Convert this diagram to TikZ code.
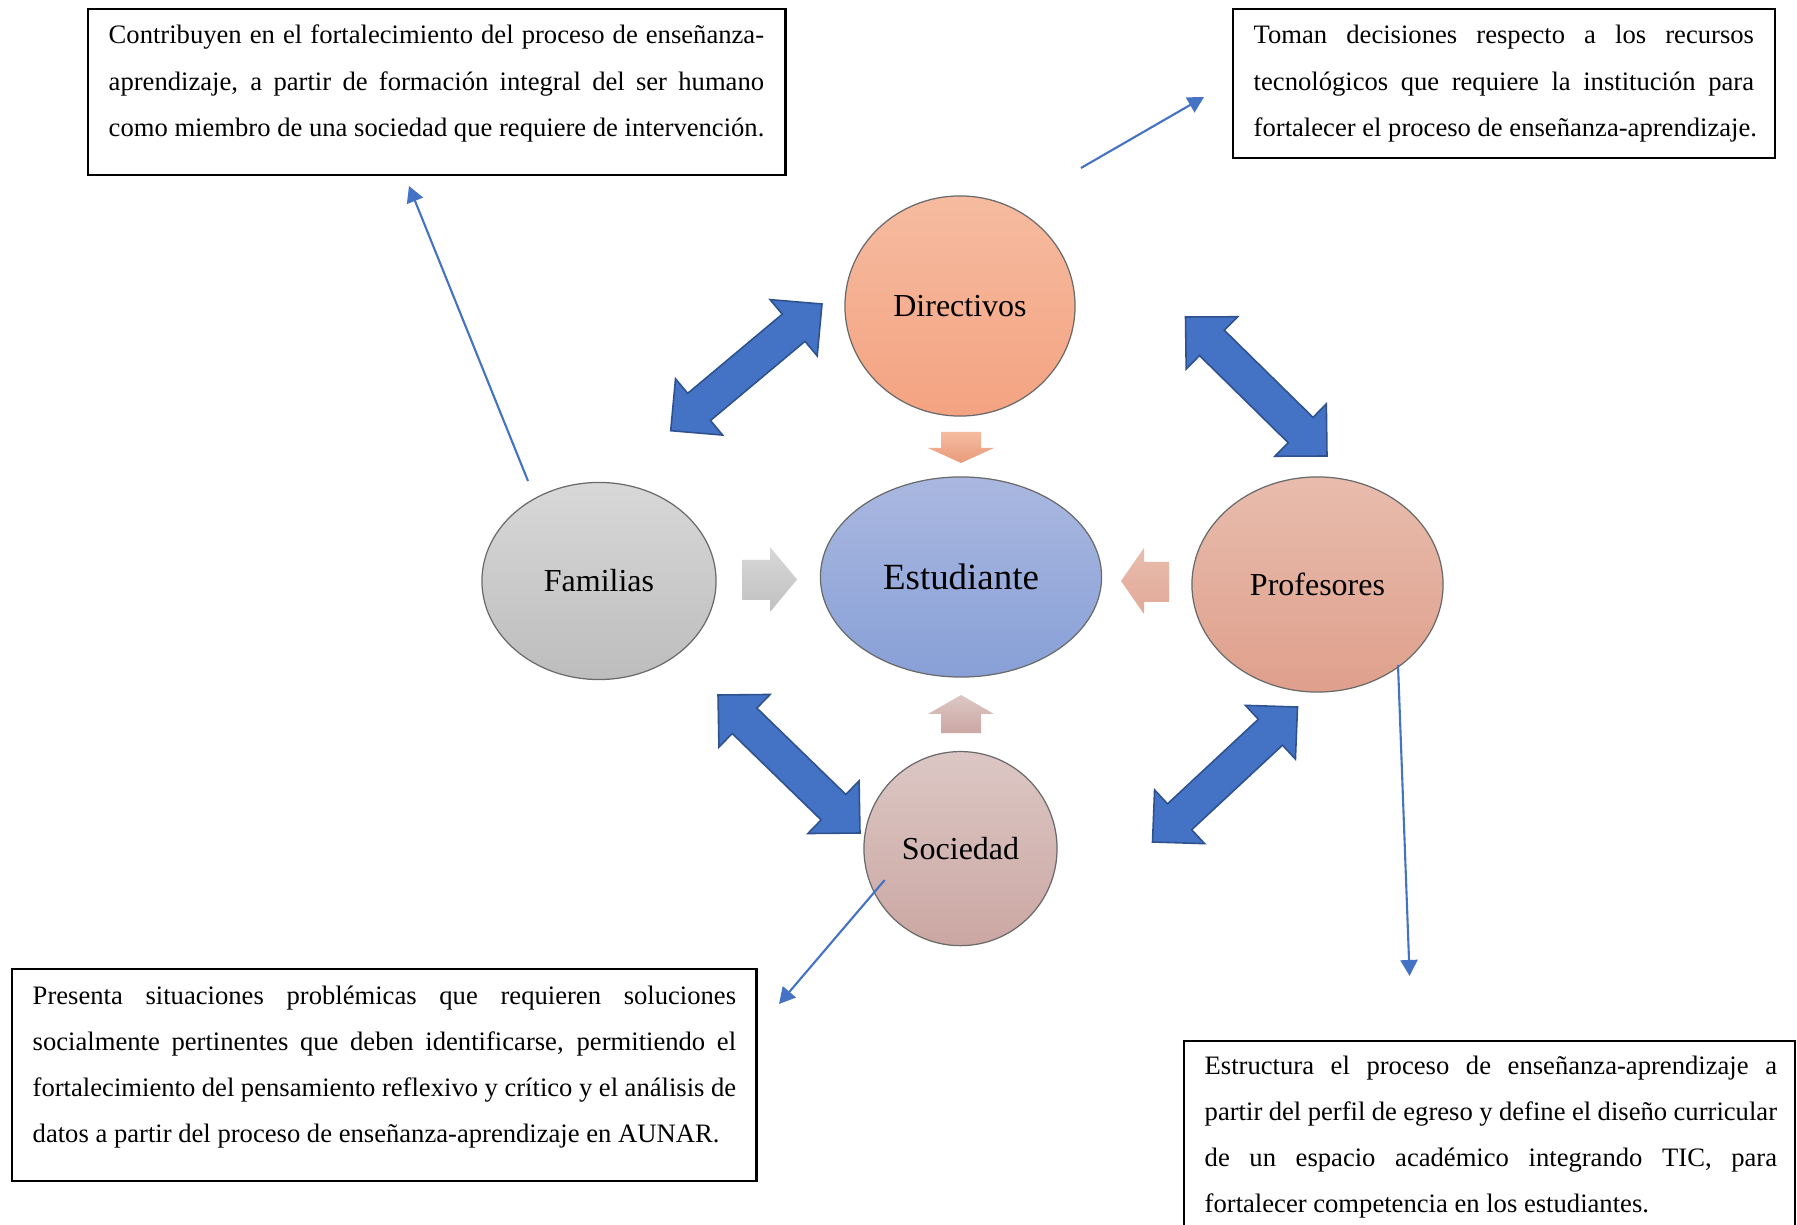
\documentclass[tikz,border=0pt]{standalone}
\usepackage{fontspec}
\setmainfont{Liberation Serif}
\usetikzlibrary{calc,shapes.geometric,arrows.meta}

% palette
\definecolor{linkblue}{HTML}{4472C4}
\definecolor{arrowfill}{HTML}{4472C4}
\definecolor{arrowedge}{HTML}{2F528F}
\definecolor{orbedge}{HTML}{6A6A6A}
\definecolor{dirTop}{HTML}{F6BBA0}
\definecolor{dirBot}{HTML}{F4A381}
\definecolor{estTop}{HTML}{AAB8E0}
\definecolor{estBot}{HTML}{88A0D7}
\definecolor{famTop}{HTML}{D8D8D8}
\definecolor{famBot}{HTML}{BDBDBD}
\definecolor{profTop}{HTML}{E8BCAD}
\definecolor{profBot}{HTML}{DFA08C}
\definecolor{socTop}{HTML}{DCC7C4}
\definecolor{socBot}{HTML}{CBA7A3}

\tikzset{
  orb/.style={ellipse, draw=orbedge, line width=0.35pt, inner sep=0pt,
    font=\fontsize{9.1pt}{11pt}\selectfont},
  frame/.style={rectangle, draw=black, line width=0.6pt, inner sep=0pt, anchor=north west},
  para/.style={inner sep=0pt, anchor=base west,
    font=\fontsize{7.57pt}{13.09pt}\selectfont},
  link/.style={draw=linkblue, line width=0.6pt,
    -{Triangle[length=0.16cm,width=0.17cm]}},
  bigarrow/.style={fill=arrowfill, draw=arrowedge, line width=0.45pt, line join=miter},
  pointer/.style={draw=none}
}

% double-headed block arrow between two tip coordinates
\newcommand\twohead[2]{%
  \path[bigarrow] (#1)
    -- ($(#1)!0.37cm!(#2)!0.367cm!90:(#2)$)
    -- ($(#1)!0.37cm!(#2)!0.177cm!90:(#2)$)
    -- ($(#2)!0.37cm!(#1)!0.177cm!-90:(#1)$)
    -- ($(#2)!0.37cm!(#1)!0.367cm!-90:(#1)$)
    -- (#2)
    -- ($(#2)!0.37cm!(#1)!0.367cm!90:(#1)$)
    -- ($(#2)!0.37cm!(#1)!0.177cm!90:(#1)$)
    -- ($(#1)!0.37cm!(#2)!0.177cm!-90:(#2)$)
    -- ($(#1)!0.37cm!(#2)!0.367cm!-90:(#2)$)
    -- cycle;}

\newcommand\jline[1]{\makebox[\linewidth][s]{#1}\par}
\newcommand\lline[1]{\makebox[\linewidth][l]{#1}\par}

\begin{document}
\begin{tikzpicture}[x=0.01cm, y=-0.01cm]
  \useasboundingbox (0,0) rectangle (1797,1225);
  \clip (0,0) rectangle (1797,1225);
  \fill[white] (0,0) rectangle (1797,1225);

  % actors
  \node[orb, minimum width=2.30cm, minimum height=2.20cm,
        top color=dirTop, bottom color=dirBot] (dir) at (960,306) {Directivos};
  \node[orb, minimum width=2.81cm, minimum height=2.00cm,
        top color=estTop, bottom color=estBot,
        font=\fontsize{10.5pt}{12pt}\selectfont] (est) at (961,577) {Estudiante};
  \node[orb, minimum width=2.34cm, minimum height=1.97cm,
        top color=famTop, bottom color=famBot] (fam) at (599,581) {Familias};
  \node[orb, minimum width=2.51cm, minimum height=2.15cm,
        top color=profTop, bottom color=profBot] (prof) at (1317.5,584.5) {Profesores};
  \node[orb, minimum width=1.93cm, minimum height=1.94cm,
        top color=socTop, bottom color=socBot] (soc) at (960.5,848.6) {Sociedad};

  % small arrows pointing at the student
  \path[pointer, top color=dirTop, bottom color=dirBot!95!black]
    (941,432) -- (981,432) -- (981,448) -- (994,448) -- (961,463)
    -- (928,448) -- (941,448) -- cycle;
  \path[pointer, top color=socTop, bottom color=socBot]
    (961,695) -- (994,714) -- (981,714) -- (981,733) -- (941,733)
    -- (941,714) -- (928,714) -- cycle;
  \path[pointer, top color=famTop, bottom color=famBot!95!white]
    (742,560) -- (770,560) -- (770,547) -- (797,579.5) -- (770,612)
    -- (770,600) -- (742,600) -- cycle;
  \path[pointer, top color=profTop, bottom color=profBot!90!white]
    (1169,562) -- (1144,562) -- (1144,548) -- (1121,581) -- (1144,614)
    -- (1144,602) -- (1169,602) -- cycle;

  % two-way relations
  \coordinate (aTop) at (822,304);     \coordinate (aBot) at (670.7,430.7);
  \coordinate (bTop) at (1185.5,317);  \coordinate (bBot) at (1327,456);
  \coordinate (cTop) at (718,695);     \coordinate (cBot) at (860,833);
  \coordinate (dTop) at (1297.5,707);  \coordinate (dBot) at (1152.5,842);
  \twohead{aTop}{aBot}
  \twohead{bTop}{bBot}
  \twohead{cTop}{cBot}
  \twohead{dTop}{dBot}

  % description boxes
  \node[frame, minimum width=6.97cm, minimum height=1.66cm] (b1) at (87,8) {};
  \node[para] (t1) at (108,44) {\parbox[t]{6.55cm}{%
    \jline{Contribuyen en el fortalecimiento del proceso de enseñanza-}
    \jline{aprendizaje, a partir de formación integral del ser humano}
    \lline{como miembro de una sociedad que requiere de intervención.}}};

  \node[frame, minimum width=5.42cm, minimum height=1.49cm] (b2) at (1232,8) {};
  \node[para] (t2) at (1253,44) {\parbox[t]{5.00cm}{%
    \jline{Toman decisiones respecto a los recursos}
    \jline{tecnológicos que requiere la institución para}
    \lline{fortalecer el proceso de enseñanza-aprendizaje.}}};

  \node[frame, minimum width=7.44cm, minimum height=2.12cm] (b3) at (11,968) {};
  \node[para] (t3) at (32,1004) {\parbox[t]{7.03cm}{%
    \jline{Presenta situaciones problémicas que requieren soluciones}
    \jline{socialmente pertinentes que deben identificarse, permitiendo el}
    \jline{fortalecimiento del pensamiento reflexivo y crítico y el análisis de}
    \lline{datos a partir del proceso de enseñanza-aprendizaje en AUNAR.}}};

  \node[frame, minimum width=6.11cm, minimum height=2.20cm] (b4) at (1183,1040) {};
  \node[para] (t4) at (1204,1074) {\parbox[t]{5.72cm}{%
    \jline{Estructura el proceso de enseñanza-aprendizaje a}
    \jline{partir del perfil de egreso y define el diseño curricular}
    \jline{de un espacio académico integrando TIC, para}
    \lline{fortalecer competencia en los estudiantes.}}};

  % pointers from actors to their descriptions
  \coordinate (famOut) at (528,481);    \coordinate (b1In) at (409,186);
  \coordinate (dirOut) at (1081,168);   \coordinate (b2In) at (1204,97);
  \coordinate (profOut) at (1398,665);  \coordinate (b4In) at (1409.6,976);
  \coordinate (socOut) at (884.7,880);  \coordinate (b3In) at (779,1004);
  \draw[link] (famOut) -- (b1In);
  \draw[link] (dirOut) -- (b2In);
  \draw[link] (profOut) -- (b4In);
  \draw[link] (socOut) -- (b3In);
\end{tikzpicture}
\end{document}
